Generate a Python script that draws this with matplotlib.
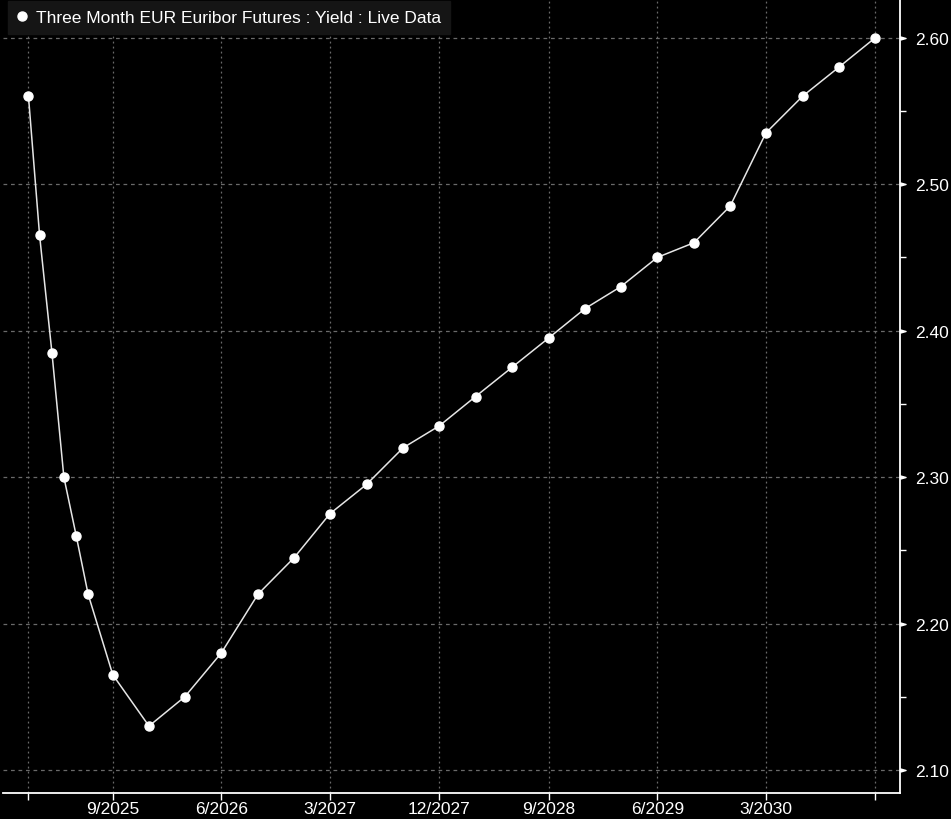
import numpy as np
import pandas as pd
import matplotlib
matplotlib.use('Agg')
import matplotlib.pyplot as plt
from matplotlib.lines import Line2D
from matplotlib.path import Path

plt.rcParams['font.family'] = ['Liberation Sans', 'DejaVu Sans']

# 合约月份与收益率
months = ['2025-02', '2025-03', '2025-04', '2025-05', '2025-06', '2025-07', '2025-09',
          '2025-12', '2026-03', '2026-06', '2026-09', '2026-12', '2027-03', '2027-06',
          '2027-09', '2027-12', '2028-03', '2028-06', '2028-09', '2028-12', '2029-03',
          '2029-06', '2029-09', '2029-12', '2030-03', '2030-06', '2030-09', '2030-12']
yields = [2.56, 2.465, 2.385, 2.30, 2.26, 2.22, 2.165,
          2.13, 2.15, 2.18, 2.22, 2.245, 2.275, 2.295,
          2.32, 2.335, 2.355, 2.375, 2.395, 2.415, 2.43,
          2.45, 2.46, 2.485, 2.535, 2.56, 2.58, 2.60]
tick_months = ['2025-02', '2025-09', '2026-06', '2027-03', '2027-12', '2028-09', '2029-06', '2030-03', '2030-12']
tick_labels = ['', '9/2025', '6/2026', '3/2027', '12/2027', '9/2028', '6/2029', '3/2030', '']
series_name = 'Three Month EUR Euribor Futures : Yield : Live Data'

dates = pd.to_datetime(months)
tick_dates = pd.to_datetime(tick_months)

fig = plt.figure(figsize=(9.51, 8.2), dpi=100, facecolor='black')
ax = fig.add_axes([3 / 951, 26 / 820, 897 / 951, 794 / 820], facecolor='black')

ax.plot(dates, yields, color='#e6e6e6', lw=1.1, marker='o', ms=6.5,
        mfc='white', mec='white', zorder=3)

ax.set_xlim(pd.Timestamp('2024-11-29'), pd.Timestamp('2031-02-01'))
ax.set_ylim(2.0843, 2.6264)

# 网格
ax.set_xticks(tick_dates)
ax.set_xticklabels(tick_labels)
ax.set_yticks(np.arange(2.10, 2.61, 0.10))
ax.set_yticks(np.arange(2.15, 2.60, 0.10), minor=True)
ax.yaxis.set_major_formatter(matplotlib.ticker.FormatStrFormatter('%.2f'))
ax.grid(axis='x', color='#6a6a6a', ls=(0, (1.5, 2.5)), lw=0.9)
ax.grid(axis='y', color='#6a6a6a', ls=(0, (3, 3)), lw=0.9)
ax.set_axisbelow(True)

# 坐标轴
for s in ['top', 'left']:
    ax.spines[s].set_visible(False)
ax.spines['right'].set_color('white')
ax.spines['bottom'].set_color('white')
ax.spines['right'].set_linewidth(1.3)
ax.spines['bottom'].set_linewidth(1.3)
ax.yaxis.tick_right()
ax.tick_params(axis='x', colors='white', length=5, width=1, labelsize=12.5, pad=1)
ax.tick_params(axis='y', which='major', colors='white', length=8, width=1, labelsize=12.5, pad=3)
ax.tick_params(axis='y', which='minor', colors='white', length=4, width=1)

# 主刻度画成小三角
tri = Path([(0, -0.45), (1.6, 0), (0, 0.45), (0, -0.45)])
for t in ax.yaxis.get_major_ticks():
    t.tick2line.set_marker(tri)
    t.tick2line.set_markersize(8)
    t.tick2line.set_markerfacecolor('white')

# 图例
h = Line2D([], [], ls='none', marker='o', ms=6.5, mfc='white', mec='white')
leg = ax.legend([h], [series_name], loc='upper left', bbox_to_anchor=(0.006, 0.997),
                frameon=True, fancybox=False, facecolor='#151515', edgecolor='#151515',
                framealpha=1, labelcolor='white', fontsize=12.5, handlelength=0.6,
                handletextpad=0.5, borderpad=0.5, borderaxespad=0)

fig.savefig('out.png', dpi=100, facecolor='black')
